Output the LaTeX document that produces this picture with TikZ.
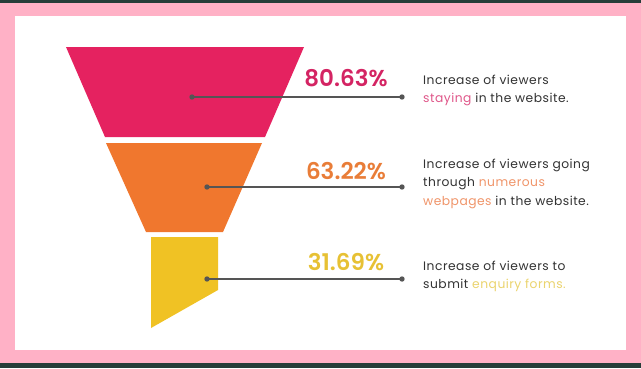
\documentclass[tikz,border=0pt]{standalone}
\usepackage{fontspec}
\setmainfont{Poppins}[LetterSpace=4]
\newfontfamily\popbold{Poppins}[UprightFont=* SemiBold]
\definecolor{darkstrip}{HTML}{263D39}
\definecolor{framepink}{HTML}{FFB1C6}
\definecolor{fpink}{HTML}{E52260}
\definecolor{forange}{HTML}{F0772E}
\definecolor{fyellow}{HTML}{F0C224}
\definecolor{tpink}{HTML}{D42463}
\definecolor{torange}{HTML}{E97D38}
\definecolor{tyellow}{HTML}{E7C134}
\definecolor{hpink}{HTML}{E0578A}
\definecolor{horange}{HTML}{F0956A}
\definecolor{hyellow}{HTML}{EBD46E}
\definecolor{txt}{HTML}{333333}
\definecolor{leader}{HTML}{555555}
\tikzset{
  pct/.style={font=\popbold\fontsize{23}{26}\selectfont, anchor=center, inner sep=0pt},
  desc/.style={font=\fontsize{12.3}{18.6}\selectfont, text=txt, align=left, anchor=north west, inner sep=0pt},
  leaderline/.style={draw=leader, line width=1.2pt},
  dotmark/.style={fill=leader}
}
\begin{document}
\begin{tikzpicture}[x=1pt,y=-1pt]
\useasboundingbox (0,0) rectangle (641,368);
% background
\fill[darkstrip] (0,0) rectangle (641,368);
\fill[framepink] (0,3) rectangle (641,363);
\fill[white] (15,16) rectangle (626,350);
% funnel
\fill[fpink] (66,47) -- (304,47) -- (265,137) -- (105,137) -- cycle;
\fill[forange] (106,143) -- (262,143) -- (223,232) -- (146,232) -- cycle;
\fill[fyellow] (151,237) -- (218,237) -- (218,290) -- (151,328) -- cycle;
% leader coordinates
\coordinate (d1a) at (192,97);
\coordinate (d1b) at (402,97);
\coordinate (d2a) at (207,187);
\coordinate (d2b) at (402,187);
\coordinate (d3a) at (207,279);
\coordinate (d3b) at (402,279);
\draw[leaderline] (d1a) -- (d1b);
\draw[leaderline] (d2a) -- (d2b);
\draw[leaderline] (d3a) -- (d3b);
\foreach \p in {d1a,d1b,d2a,d2b,d3a,d3b}
  \fill[dotmark] (\p) circle (2.7pt);
% percentages
\node[pct, text=tpink] (p1) at (346,78) {80.63\%};
\node[pct, text=torange] (p2) at (346,171) {63.22\%};
\node[pct, text=tyellow] (p3) at (346,262) {31.69\%};
% descriptions
\node[desc] (t1) at (423,74.5) {Increase of viewers\\\textcolor{hpink}{staying} in the website.};
\node[desc] (t2) at (423,158.5) {Increase of viewers going\\through \textcolor{horange}{numerous}\\\textcolor{horange}{webpages} in the website.};
\node[desc] (t3) at (423,260.5) {Increase of viewers to\\submit \textcolor{hyellow}{enquiry forms.}};
\end{tikzpicture}
\end{document}
